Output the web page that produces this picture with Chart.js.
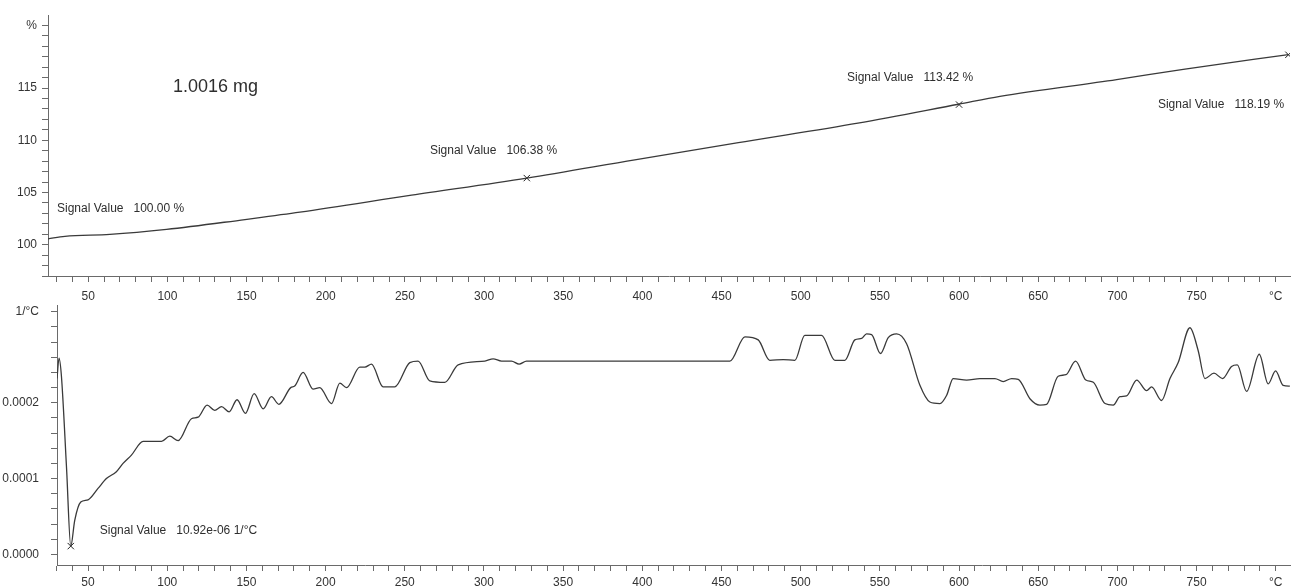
<!DOCTYPE html>
<html>
<head>
<meta charset="utf-8">
<script src="https://cdn.jsdelivr.net/npm/chart.js@4/dist/chart.umd.min.js"></script>
<style>
  body { margin: 0; background: #fff; }
  #wrap { position: relative; width: 1291px; height: 588px; }
  canvas { position: absolute; left: 0; }
  #topChart { top: 0; }
  #bottomChart { top: 300px; }
</style>
</head>
<body>
<div id="wrap">
  <canvas id="topChart" width="1291" height="300"></canvas>
  <canvas id="bottomChart" width="1291" height="288"></canvas>
</div>
<script>
// Courbe TG (%) en fonction de la température
const massTemps  = [24.6, 35.3, 63.7, 99.5, 149, 183.7, 254.2, 327, 395.2, 464.9, 536.1, 599.6, 625.8, 699.5, 741.6, 808];
const massValues = [100.56, 100.8, 100.98, 101.46, 102.41, 103.11, 104.74, 106.38, 108.13, 109.88, 111.65, 113.45, 114.2, 115.8, 116.8, 118.2];

// Courbe dérivée (1/°C)
const rateTemps = [30.4, 31.7, 33.2, 36.4, 39.1, 41.6, 45.4, 50, 56.3, 61.6, 67.9, 72.1, 77.4, 84.8, 90, 96.4,
  101.6, 106.9, 115.3, 119.5, 125.2, 130, 134.3, 139.1, 144.1, 149.4, 154.9, 160.6, 165.8, 170.5, 178, 180.5,
  185.8, 192.1, 196.3, 203.7, 209, 213.2, 221.6, 224.8, 229, 236.3, 243.7, 253.2, 258.4, 265.8, 275.3, 283.7,
  300.6, 305.8, 311.1, 317.4, 322.2, 326.9, 455.3, 464.8, 473.2, 480.5, 489, 496.3, 502.6, 513.2, 521.6, 527.9,
  534.2, 538.5, 541.6, 544.8, 550.4, 555.3, 560.6, 566.9, 575.3, 581.6, 587.9, 592.2, 596.3, 604.8, 613.2, 622.7,
  627.9, 633.2, 637.4, 644.9, 651.1, 655.3, 662.6, 667.5, 673.6, 680.1, 684.8, 692.2, 697.4, 701.6, 705.8, 712.2,
  718.5, 721.6, 727.9, 733.2, 738.4, 745.8, 751, 755.3, 761, 766.4, 772.1, 775.7, 781.6, 789.6, 795.2, 799.9,
  804.7, 808.9];
const rateValues = [0.000232, 0.000259, 0.000235, 0.000115, 0.0000109, 0.000045, 0.000069, 0.000072, 0.000087, 0.0001, 0.000109, 0.00012, 0.000131, 0.000149, 0.000149, 0.000149,
  0.000156, 0.00015, 0.000179, 0.000181, 0.000197, 0.00019, 0.000195, 0.000188, 0.000204, 0.000186, 0.000212, 0.000192, 0.000208, 0.000198, 0.00022, 0.000222,
  0.00024, 0.000218, 0.00022, 0.000199, 0.000226, 0.00022, 0.000247, 0.000247, 0.000251, 0.000221, 0.000221, 0.000253, 0.000255, 0.000229, 0.000227, 0.00025,
  0.000255, 0.000258, 0.000255, 0.000255, 0.000251, 0.000255, 0.000255, 0.000287, 0.000283, 0.000256, 0.000257, 0.000256, 0.000289, 0.000289, 0.000256, 0.000256,
  0.000283, 0.000285, 0.000291, 0.00029, 0.000265, 0.000286, 0.000291, 0.000278, 0.000223, 0.000201, 0.000199, 0.00021, 0.000232, 0.00023, 0.000232, 0.000232,
  0.000228, 0.000232, 0.000231, 0.000205, 0.000197, 0.000198, 0.000235, 0.000237, 0.000255, 0.00023, 0.000227, 0.000199, 0.000197, 0.000208, 0.000209, 0.00023,
  0.000216, 0.000221, 0.000203, 0.000232, 0.000253, 0.000299, 0.000269, 0.000232, 0.000239, 0.000232, 0.000248, 0.00025, 0.000215, 0.000264, 0.000225, 0.000242,
  0.000223, 0.000222];

// Points marqués (croix)
const massMarkTemps  = [327, 600, 808];
const massMarkValues = [106.38, 113.42, 118.19];
const rateMarkTemps  = [39.1];
const rateMarkValues = [0.00001092];

// Graduations
const tempTickValues = [50, 100, 150, 200, 250, 300, 350, 400, 450, 500, 550, 600, 650, 700, 750, 800];
const tempTickLabels = ['50', '100', '150', '200', '250', '300', '350', '400', '450', '500', '550', '600', '650', '700', '750', '°C'];
const massTickValues = [100, 105, 110, 115, 121];
const massTickLabels = ['100', '105', '110', '115', '%'];
const rateTickValues = [0, 0.0001, 0.0002, 0.00032];
const rateTickLabels = ['0.0000', '0.0001', '0.0002', '1/°C'];

const FONT = "'Liberation Sans', Arial, sans-serif";
const INK = '#3a3a3a';
const AXIS = '#6a6a6a';

function toPoints(xs, ys) {
    return xs.map((x, i) => ({ x: x, y: ys[i] }));
}

function labelFor(values, labels, v) {
    const i = values.findIndex(t => Math.abs(t - v) < 1e-9);
    return i >= 0 ? labels[i] : '';
}

// Plugin pour les textes "Signal Value"
const notesPlugin = {
    id: 'notes',
    afterDraw(chart, args, opts) {
        const ctx = chart.ctx;
        const xs = chart.scales.x, ys = chart.scales.y;
        ctx.save();
        ctx.fillStyle = '#2e2e2e';
        ctx.textBaseline = 'middle';
        ctx.textAlign = 'left';
        (opts.items || []).forEach(n => {
            ctx.font = (n.size || 12) + 'px ' + FONT;
            ctx.fillText(n.text, xs.getPixelForValue(n.t), ys.getPixelForValue(n.v));
        });
        ctx.restore();
    }
};

function xAxis(min, height, pad) {
    return {
        type: 'linear',
        min: min,
        max: 809,
        afterBuildTicks: scale => {
            const t = [];
            for (let v = 30; v <= 800; v += 10) t.push({ value: v });
            scale.ticks = t;
        },
        afterFit: scale => {
            scale.height = height;
            scale.paddingLeft = 0;
            scale.paddingRight = 0;
        },
        grid: { drawOnChartArea: false, drawTicks: true, tickLength: 6, color: AXIS },
        border: { display: true, color: AXIS, width: 1 },
        ticks: {
            autoSkip: false,
            maxRotation: 0,
            padding: pad,
            color: '#333',
            font: { family: FONT, size: 12 },
            callback: v => labelFor(tempTickValues, tempTickLabels, v)
        }
    };
}

function yAxis(min, max, step, first, last, width, pad, values, labels) {
    return {
        type: 'linear',
        min: min,
        max: max,
        afterBuildTicks: scale => {
            const t = [];
            const n = Math.round((last - first) / step);
            for (let i = 0; i <= n; i++) t.push({ value: +(first + i * step).toFixed(8) });
            scale.ticks = t;
        },
        afterFit: scale => {
            scale.width = width;
            scale.paddingTop = 0;
            scale.paddingBottom = 0;
        },
        grid: { drawOnChartArea: false, drawTicks: true, tickLength: 6, color: AXIS },
        border: { display: true, color: AXIS, width: 1 },
        ticks: {
            autoSkip: false,
            padding: pad,
            color: '#333',
            font: { family: FONT, size: 12 },
            callback: v => labelFor(values, labels, v)
        }
    };
}

function baseOptions(padTop, scales, notes) {
    return {
        responsive: false,
        animation: false,
        devicePixelRatio: 1,
        layout: { autoPadding: false, padding: { top: padTop, right: 1, left: 0, bottom: 0 } },
        plugins: {
            legend: { display: false },
            tooltip: { enabled: false },
            notes: { items: notes }
        },
        scales: scales
    };
}

function lineSet(points) {
    return {
        type: 'line',
        data: points,
        borderColor: INK,
        borderWidth: 1.3,
        pointRadius: 0,
        cubicInterpolationMode: 'monotone',
        fill: false
    };
}

function markSet(points) {
    return {
        type: 'scatter',
        data: points,
        pointStyle: 'crossRot',
        pointRadius: 4.5,
        borderColor: '#222',
        borderWidth: 1,
        backgroundColor: 'transparent'
    };
}

document.addEventListener('DOMContentLoaded', () => {
    new Chart(document.getElementById('topChart').getContext('2d'), {
        type: 'line',
        data: {
            datasets: [
                lineSet(toPoints(massTemps, massValues)),
                markSet(toPoints(massMarkTemps, massMarkValues))
            ]
        },
        options: baseOptions(15, {
            x: xAxis(24.6, 24, 7),
            y: yAxis(97, 122, 1, 97, 121, 48, 5, massTickValues, massTickLabels)
        }, [
            { text: '1.0016 mg', t: 103.5, v: 115.1, size: 18 },
            { text: 'Signal Value   100.00 %', t: 30.3, v: 103.4 },
            { text: 'Signal Value   106.38 %', t: 265.8, v: 109.0 },
            { text: 'Signal Value   113.42 %', t: 529.2, v: 116.0 },
            { text: 'Signal Value   118.19 %', t: 725.6, v: 113.4 }
        ]),
        plugins: [notesPlugin]
    });

    new Chart(document.getElementById('bottomChart').getContext('2d'), {
        type: 'line',
        data: {
            datasets: [
                lineSet(toPoints(rateTemps, rateValues)),
                markSet(toPoints(rateMarkTemps, rateMarkValues))
            ]
        },
        options: baseOptions(5, {
            x: xAxis(30.4, 23, 4),
            y: yAxis(-0.000014, 0.000329, 0.00002, 0, 0.00032, 57, 12, rateTickValues, rateTickLabels)
        }, [
            { text: 'Signal Value   10.92e-06 1/°C', t: 57.4, v: 0.0000311 }
        ]),
        plugins: [notesPlugin]
    });
});
</script>
</body>
</html>
